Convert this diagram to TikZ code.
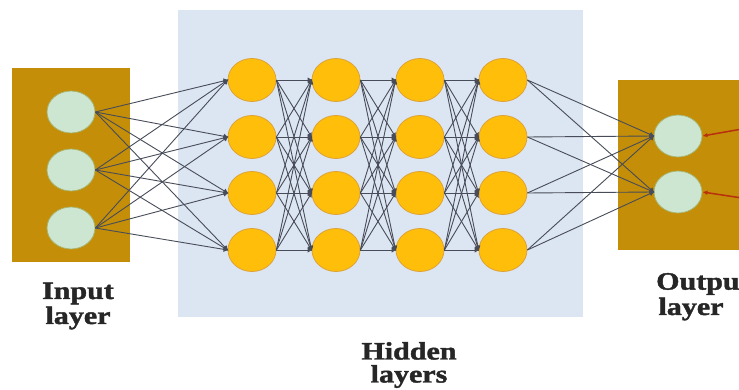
\documentclass[tikz,border=0pt]{standalone}
\usepackage{fontspec}
\newfontfamily\lblfont[FakeStretch=1.2, FakeBold=1.6]{Liberation Serif Bold}
\usetikzlibrary{arrows.meta,shapes.geometric}
\definecolor{boxgold}{HTML}{C48E08}
\definecolor{mint}{HTML}{CDE6D2}
\definecolor{mintedge}{HTML}{A9B36A}
\definecolor{hidbg}{HTML}{DCE6F2}
\definecolor{amber}{HTML}{FFBE0A}
\definecolor{amberedge}{HTML}{DDA237}
\definecolor{wire}{HTML}{474C58}
\definecolor{redarrow}{HTML}{B8300E}
\tikzset{
  x=1pt, y=-1pt,
  inode/.style={ellipse, fill=mint, draw=mintedge, line width=0.8pt, minimum width=48pt, minimum height=42pt, inner sep=0pt},
  hnode/.style={ellipse, fill=amber, draw=amberedge, line width=0.8pt, minimum width=48pt, minimum height=43pt, inner sep=0pt},
  wirestyle/.style={draw=wire, line width=0.9pt, -{Latex[length=5pt,width=5.5pt]}, shorten >=-1pt},
  lbl/.style={font=\lblfont\fontsize{25}{26}\selectfont, text=black!85, align=center, inner sep=0pt},
  redarr/.style={draw=redarrow, line width=1.5pt, -{Latex[length=5pt,width=4.5pt]}}
}
\begin{document}
\begin{tikzpicture}
\useasboundingbox (0,0) rectangle (739,390);
% backgrounds
\fill[boxgold] (12,68) rectangle (130,262);
\fill[hidbg] (178,10) rectangle (583,317);
\fill[boxgold] (618,80) rectangle (745,250);
% input nodes
\node[inode] (i1) at (71,112) {};
\node[inode] (i2) at (71,170) {};
\node[inode] (i3) at (71,228) {};
% hidden nodes
\foreach \c/\x in {1/252,2/336,3/420,4/503}{
  \foreach \r/\y in {1/80,2/137,3/193,4/250}{
    \node[hnode] (h\c\r) at (\x,\y) {};
  }
}
% output nodes
\node[inode] (o1) at (678,136) {};
\node[inode] (o2) at (678,192) {};
% wires input -> hidden 1
\foreach \i in {1,2,3}{
  \foreach \r in {1,2,3,4}{
    \draw[wirestyle] (i\i.east) -- (h1\r.west);
  }
}
% hidden -> hidden
\foreach \c/\n in {1/2,2/3,3/4}{
  \foreach \r in {1,2,3,4}{
    \foreach \s in {1,2,3,4}{
      \draw[wirestyle] (h\c\r.east) -- (h\n\s.west);
    }
  }
}
% hidden 4 -> output
\foreach \r in {1,2,3,4}{
  \foreach \o in {1,2}{
    \draw[wirestyle] (h4\r.east) -- (o\o.west);
  }
}
% red arrows
\coordinate (r1) at (742,129);
\coordinate (r2) at (742,198);
\draw[redarr] (r1) -- (o1.east);
\draw[redarr] (r2) -- (o2.east);
% labels
\node[lbl] (tin) at (78,306) {Input\\[-1pt]layer};
\node[lbl, anchor=west, align=left] (tout1) at (656,284) {Output};
\node[lbl] (tout2) at (691,309) {layer};
\node[lbl] (thid) at (409,365) {Hidden\\[-3pt]layers};
\end{tikzpicture}
\end{document}
